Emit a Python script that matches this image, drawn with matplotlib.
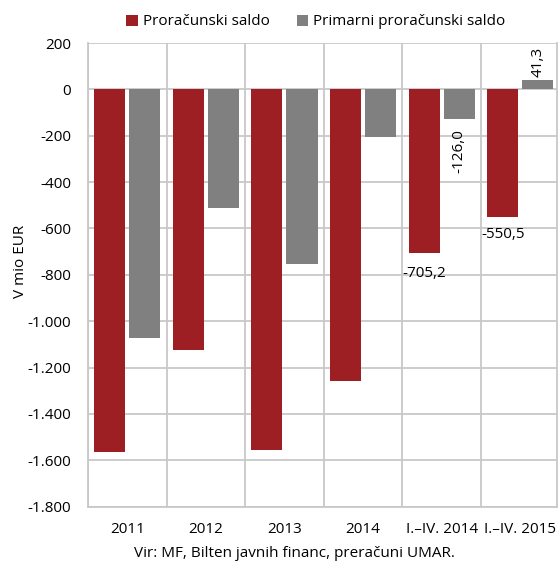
import matplotlib
matplotlib.use("Agg")
import matplotlib.pyplot as plt
import numpy as np

categories = ["2011", "2012", "2013", "2014", "I.–IV. 2014", "I.–IV. 2015"]
proracunski = [-1562, -1124, -1556, -1257, -705.2, -550.5]
primarni = [-1073, -513, -752, -204, -126.0, 41.3]
series_names = ["Proračunski saldo", "Primarni proračunski saldo"]
yticks = list(range(200, -1801, -200))

RED = "#9E1F23"
GREY = "#808080"
GRID = "#C8C8C8"
FS = 11

plt.rcParams["font.family"] = ["Open Sans", "DejaVu Sans"]

fig = plt.figure(figsize=(5.59, 5.63), dpi=100)
ax = fig.add_axes([0.1574, 0.1, 0.8393, 0.8236])

x = np.arange(len(categories))
w = 0.395
off = 0.223
b1 = ax.bar(x - off, proracunski, w, color=RED, label=series_names[0], zorder=3)
b2 = ax.bar(x + off, primarni, w, color=GREY, label=series_names[1], zorder=3)

ax.set_ylim(-1800, 200)
ax.set_xlim(-0.5, 5.47)
ax.set_yticks(yticks)
ax.set_yticklabels([f"{v:,}".replace(",", ".") for v in yticks], fontsize=FS)
ax.yaxis.grid(True, color=GRID, linewidth=1.3, zorder=0)
for b in np.arange(-0.5, 5.5, 1.0):
    ax.axvline(b, color=GRID, linewidth=1.3, zorder=0)
ax.set_xticks(x)
ax.set_xticklabels(categories, fontsize=FS)
ax.tick_params(axis="y", length=0, pad=12)
ax.tick_params(axis="x", length=0, pad=11)
for s in ["left", "bottom", "right", "top"]:
    ax.spines[s].set_color(GRID)
    ax.spines[s].set_linewidth(1.3)
ax.spines["top"].set_visible(False)

ax.set_ylabel("V mio EUR", fontsize=FS)
ax.yaxis.set_label_coords(-0.128, 0.53)

# data labels
ax.text(x[4] - 0.5, proracunski[4] - 55, "-705,2", ha="left", va="top", fontsize=FS, zorder=4)
ax.text(x[5] - 0.5, proracunski[5] - 45, "-550,5", ha="left", va="top", fontsize=FS, zorder=4)
ax.text(x[4] + off, primarni[4] - 45, "-126,0", ha="center", va="top", rotation=90, fontsize=FS, zorder=4)
ax.text(x[5] + off, primarni[5] + 12, "41,3", ha="center", va="bottom", rotation=90, fontsize=FS, zorder=4)

leg = fig.legend(handles=[b1, b2], loc="center", bbox_to_anchor=(0.565, 0.961), ncol=2,
                 frameon=False, fontsize=FS, handlelength=0.75, handleheight=0.75,
                 handletextpad=0.3, columnspacing=1.8)

fig.text(0.527, 0.004, "Vir: MF, Bilten javnih financ, preračuni UMAR.", ha="center", va="bottom", fontsize=FS)

fig.savefig("out.png", dpi=100)
